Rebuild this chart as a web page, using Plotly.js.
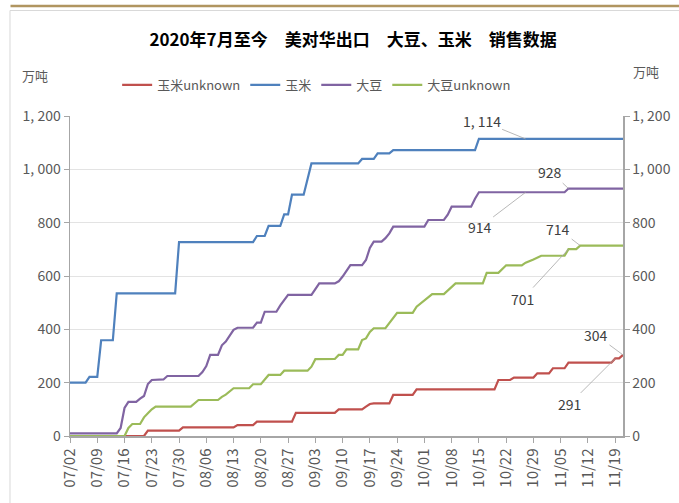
<!DOCTYPE html>
<html>
<head>
<meta charset="utf-8">
<script src="https://cdn.plot.ly/plotly-3.0.1.min.js"></script>
<style>
  html, body { margin: 0; padding: 0; background: #fff; }
  #chart { width: 679px; height: 503px; }
</style>
</head>
<body>
<div id="chart"></div>
<script>
// cumulative sales since 2020-07-02, unit: 万吨
var cornUnkDates = ['07-02','07-21','07-22','07-30','07-31','08-13','08-14','08-18','08-19','08-28','08-29','09-08','09-09','09-15','09-16','09-17','09-18','09-22','09-23','09-28','09-29','10-19','10-20','10-23','10-24','10-29','10-30','11-02','11-03','11-06','11-07','11-18','11-19','11-20','11-21'];
var cornUnkValues = [0,0,20,20,32,32,41,41,54,54,87,87,100,100,110,120,122,122,154,154,175,175,210,210,219,219,235,235,254,254,275,275,291,291,304];

var cornDates = ['07-02','07-06','07-07','07-09','07-10','07-13','07-14','07-29','07-30','08-18','08-19','08-21','08-22','08-25','08-26','08-27','08-28','08-31','09-02','09-14','09-15','09-18','09-19','09-22','09-23','10-14','10-15','11-21'];
var cornValues = [200,200,222,222,359,359,535,535,727,727,750,750,788,788,831,831,905,905,1022,1022,1039,1039,1060,1060,1072,1072,1114,1114];

var soyDates = ['07-02','07-14','07-15','07-16','07-17','07-19','07-20','07-21','07-22','07-23','07-26','07-27','08-04','08-05','08-06','08-07','08-09','08-10','08-11','08-13','08-14','08-18','08-19','08-20','08-21','08-24','08-25','08-27','09-02','09-03','09-04','09-08','09-09','09-10','09-11','09-12','09-15','09-16','09-17','09-18','09-20','09-21','09-22','09-23','10-01','10-02','10-06','10-07','10-08','10-13','10-14','10-15','11-06','11-07','11-21'];
var soyValues = [10,10,30,105,128,128,140,150,195,210,212,225,225,240,262,304,304,340,354,398,406,406,425,425,466,466,490,529,529,550,572,572,580,598,620,641,641,660,705,729,729,742,760,785,785,810,810,830,860,860,890,914,914,928,928];

var soyUnkDates = ['07-02','07-16','07-17','07-18','07-20','07-21','07-22','07-23','07-24','08-02','08-04','08-09','08-10','08-11','08-13','08-17','08-18','08-20','08-22','08-25','08-26','09-01','09-02','09-03','09-08','09-09','09-10','09-11','09-14','09-15','09-16','09-17','09-18','09-21','09-24','09-28','09-29','10-01','10-02','10-03','10-06','10-09','10-16','10-17','10-20','10-21','10-22','10-26','10-27','10-29','10-31','11-06','11-07','11-09','11-10','11-21'];
var soyUnkValues = [0,0,30,45,45,70,85,100,110,110,135,135,147,155,179,179,194,194,229,229,245,245,260,288,289,304,304,325,325,360,366,390,404,404,462,462,485,507,520,532,532,572,572,612,612,625,640,640,650,662,676,676,701,701,714,714];

// labelled points
var calloutDates = ['10-27','10-27','11-07','11-10','11-07','11-21','11-19'];
var calloutValues = [1114, 914, 928, 714, 701, 304, 291];

var yTicks = [0, 200, 400, 600, 800, 1000, 1200];

function d(s) { return '2020-' + s; }
function fmt(v) {
  // the source shows thousands as "1, 114"
  if (v >= 1000) return Math.floor(v / 1000) + ', ' + String(v % 1000).padStart(3, '0');
  return String(v);
}

var FONT = 'Noto Sans CJK SC, Noto Sans, sans-serif';
var GREY = '#595959';

function series(name, dates, values, color) {
  return {
    x: dates.map(d), y: values, name: name,
    type: 'scatter', mode: 'lines',
    line: {color: color, width: 2.2},
    hoverinfo: 'skip'
  };
}

var data = [
  series('玉米unknown', cornUnkDates, cornUnkValues, '#C0504D'),
  series('玉米', cornDates, cornValues, '#4F81BD'),
  series('大豆', soyDates, soyValues, '#8064A2'),
  series('大豆unknown', soyUnkDates, soyUnkValues, '#9BBB59')
];
// right axis mirrors the left one
data.push({x: [d('07-02')], y: [0], yaxis: 'y2', type: 'scatter', mode: 'lines',
  showlegend: false, hoverinfo: 'skip', line: {width: 0}});

var offsets = [[-44,-18],[-46,35],[-18,-17],[-22,-17],[-46,50],[-27,-20],[-46,46]];
var annotations = calloutDates.map(function (dt, i) {
  return {
    x: d(dt), y: calloutValues[i], xref: 'x', yref: 'y',
    text: fmt(calloutValues[i]),
    showarrow: true, arrowhead: 0, arrowwidth: 0.8, arrowcolor: '#a6a6a6',
    ax: offsets[i][0], ay: offsets[i][1], standoff: 0,
    font: {family: FONT, size: 14, color: '#404040'}
  };
});
annotations.push(
  {text: '万吨', xref: 'paper', yref: 'paper', x: -0.064, y: 1.128, showarrow: false,
   xanchor: 'center', yanchor: 'middle',
   font: {family: FONT, size: 13, color: GREY}},
  {text: '万吨', xref: 'paper', yref: 'paper', x: 1.042, y: 1.14, showarrow: false,
   xanchor: 'center', yanchor: 'middle',
   font: {family: FONT, size: 13, color: GREY}}
);

var yaxisBase = {
  range: [0, 1200], autorange: false,
  tickvals: yTicks, ticktext: yTicks.map(fmt),
  showline: true, linecolor: '#a6a6a6', linewidth: 1.5,
  ticks: 'outside', ticklen: 5, tickcolor: '#a6a6a6',
  tickfont: {family: FONT, size: 14, color: GREY},
  zeroline: false, fixedrange: true
};

var layout = {
  width: 679, height: 503,
  margin: {l: 69.5, r: 56.3, t: 116, b: 67},
  paper_bgcolor: '#fff', plot_bgcolor: '#fff',
  title: {
    text: '<b>2020年7月至今\u3000美对华出口\u3000大豆、玉米\u3000销售数据</b>',
    x: 0.52, y: 0.92, xanchor: 'center', yanchor: 'middle',
    font: {family: FONT, size: 17, color: '#000'}
  },
  showlegend: true,
  legend: {
    orientation: 'h', x: 0.446, xanchor: 'center', y: 1.097, yanchor: 'middle',
    font: {family: FONT, size: 13, color: GREY}, itemwidth: 30,
    traceorder: 'normal'
  },
  xaxis: {
    type: 'date',
    range: [d('07-02'), d('11-21')], autorange: false,
    tick0: d('07-02'), dtick: 7 * 86400000, tickformat: '%m/%d',
    tickangle: -90,
    showline: true, linecolor: '#a6a6a6', linewidth: 1.5,
    ticks: 'outside', ticklen: 5, tickcolor: '#a6a6a6',
    tickfont: {family: FONT, size: 15, color: GREY},
    showgrid: false, zeroline: false, fixedrange: true
  },
  yaxis: Object.assign({}, yaxisBase, {showgrid: true, gridcolor: '#e3e3e3', gridwidth: 1}),
  yaxis2: Object.assign({}, yaxisBase, {overlaying: 'y', side: 'right', showgrid: false}),
  annotations: annotations,
  shapes: [
    {type: 'line', xref: 'paper', yref: 'paper', x0: -0.1076, x1: 1.11, y0: 1.3437, y1: 1.3437,
     line: {color: '#b09560', width: 2.5}},
    {type: 'line', xref: 'paper', yref: 'paper', x0: -0.1085, x1: 1.11, y0: 1.3297, y1: 1.3297,
     line: {color: '#d9d9d9', width: 1}},
    {type: 'line', xref: 'paper', yref: 'paper', x0: -0.1085, x1: -0.1085, y0: 1.3297, y1: -0.25,
     line: {color: '#d9d9d9', width: 1}}
  ]
};

Plotly.newPlot('chart', data, layout, {displayModeBar: false, staticPlot: true});
</script>
</body>
</html>
